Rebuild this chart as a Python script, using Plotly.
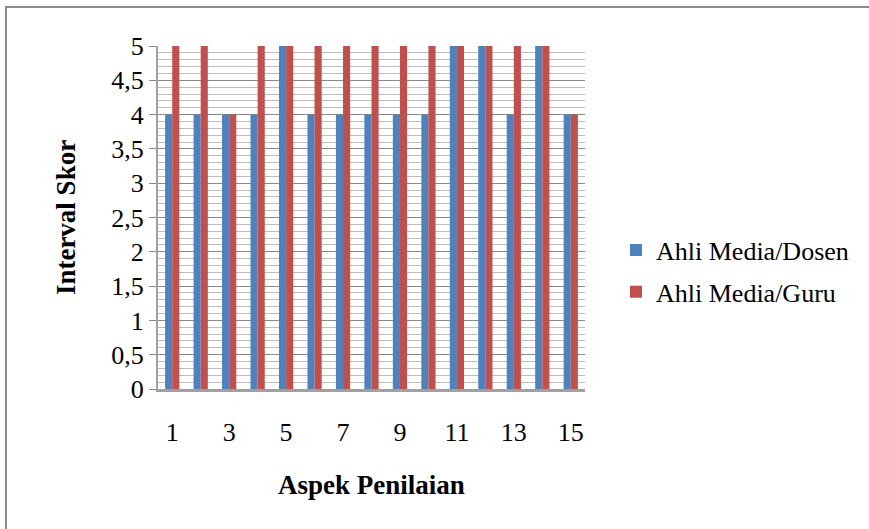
import plotly.graph_objects as go

categories = list(range(1, 16))
dosen = [4, 4, 4, 4, 5, 4, 4, 4, 4, 4, 5, 5, 4, 5, 4]
guru = [5, 5, 4, 5, 5, 5, 5, 5, 5, 5, 5, 5, 5, 5, 4]
x_tick_vals = [1, 3, 5, 7, 9, 11, 13, 15]
y_tick_vals = [0, 0.5, 1, 1.5, 2, 2.5, 3, 3.5, 4, 4.5, 5]
y_tick_text = ["0", "0,5", "1", "1,5", "2", "2,5", "3", "3,5", "4", "4,5", "5"]

W, H = 869, 529
L, R, T, B = 158, 284, 46, 140
pw, ph = W - L - R, H - T - B

font = "Liberation Serif, Times New Roman, serif"

fig = go.Figure()
fig.add_trace(go.Bar(x=categories, y=dosen, name="Ahli Media/Dosen",
                     legendgroup="dosen",
                     marker=dict(color="#4F81BD", line=dict(width=0))))
fig.add_trace(go.Bar(x=categories, y=guru, name="Ahli Media/Guru",
                     legendgroup="guru",
                     marker=dict(color="#C0504D", line=dict(width=0))))

# outer chart border
fig.add_shape(type="rect", xref="paper", yref="paper",
              x0=(6 - L) / pw, x1=(874 - L) / pw,
              y0=(H - 534 - B) / ph, y1=(H - 7 - B) / ph,
              line=dict(color="#8c8c8c", width=2), layer="below")

fig.update_layout(
    width=W, height=H,
    margin=dict(l=L, r=R, t=T, b=B, autoexpand=False),
    paper_bgcolor="white", plot_bgcolor="white",
    barmode="group", bargap=0.5, bargroupgap=0,
    font=dict(family=font, color="black", size=26),
    showlegend=True,
    legend=dict(x=(616 - L) / pw, y=(H - B - 271) / ph, xanchor="left", yanchor="middle",
                font=dict(size=26, family=font), itemwidth=30,
                tracegroupgap=5, bgcolor="rgba(0,0,0,0)"),
    xaxis=dict(range=[0.5, 15.5], tickvals=x_tick_vals,
               ticktext=[str(v) for v in x_tick_vals],
               showgrid=False, zeroline=False, showline=True,
               linecolor="#a0a0a0", linewidth=3,
               ticks="", ticklabelstandoff=18,
               tickfont=dict(size=26, family=font),
               title=dict(text="<b>Aspek Penilaian</b>", standoff=29,
                          font=dict(size=27, family=font))),
    yaxis=dict(range=[0, 5], tickvals=y_tick_vals, ticktext=y_tick_text,
               showgrid=True, gridcolor="#8a8a8a", gridwidth=1,
               minor=dict(dtick=0.1, showgrid=True, gridcolor="#bdbdbd",
                          gridwidth=1),
               zeroline=False, showline=True, linecolor="#a0a0a0",
               linewidth=2, ticks="outside", ticklen=7, tickcolor="#8a8a8a",
               tickfont=dict(size=26, family=font),
               title=dict(text="<b>Interval Skor</b>", standoff=28,
                          font=dict(size=27, family=font))),
)

fig.write_html(
    "out.html",
    config={"displayModeBar": False},
    post_script="document.body.style.margin='0';"
                "document.body.style.overflow='hidden';"
                "document.documentElement.style.overflow='hidden';",
)
